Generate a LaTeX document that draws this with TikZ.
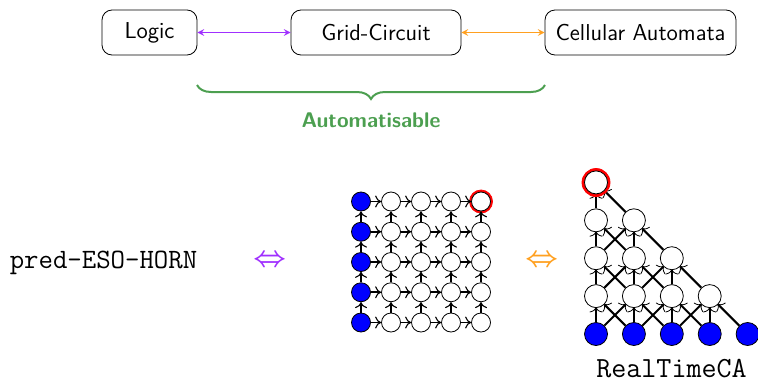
\documentclass[tikz,border=0pt]{standalone}
\usetikzlibrary{decorations.pathreplacing, arrows.meta, backgrounds}
\definecolor{linkpurple}{HTML}{A030FF}
\definecolor{linkorange}{HTML}{FFA020}
\definecolor{bracegreen}{HTML}{4C9F50}
\tikzstyle{block} = [rectangle, draw, font=\sffamily\fontsize{11.5}{13}\selectfont, minimum height=22.5pt, inner sep=0pt, rounded corners=5pt]
\tikzstyle{arrow} = [draw, line width=0.9pt, -{Computer Modern Rightarrow[width=6pt,length=3pt,line width=0.55pt]}]
\tikzstyle{smallarrow} = [draw, line width=1pt, shorten >=-0.3pt, -{Computer Modern Rightarrow[width=6.5pt,length=2.5pt,line width=0.4pt]}]
\tikzstyle{link} = [draw, <->, >=stealth, line width=0.5pt]
\tikzstyle{cell} = [circle, draw, fill=white, inner sep=0pt, minimum size=9.5pt]
\tikzstyle{bigcell} = [circle, draw, fill=white, inner sep=0pt, minimum size=11.5pt]
\tikzstyle{equiv} = [font=\Large\boldmath]

\begin{document}
\begin{tikzpicture}[x=0.5pt, y=-0.5pt, node distance=1cm]
    \useasboundingbox (0,0) rectangle (758,380);

    \node[block, minimum width=47.5pt] (logic) at (149.5,32.5) {Logic};
    \node[block, minimum width=85pt, right of=logic, node distance=113.25pt] (circuit) {Grid-Circuit};
    \node[block, minimum width=95.5pt, right of=circuit, node distance=132.25pt] (automata) {Cellular Automata};

    % lines
    \draw [link, linkpurple] (logic) to (circuit);
    \draw [link, linkorange] (circuit) to (automata);

    % brace
    \coordinate (braceL) at (197,85);
    \coordinate (braceR) at (545,85);
    \draw [bracegreen, line width=1pt, decorate, decoration={brace, mirror, amplitude=7pt}] (braceL) to (braceR);
    \node[text=bracegreen, font=\sffamily\bfseries\fontsize{10.6}{12}\selectfont] (auto) at (371,120) {Automatisable};

    % bottom row
    \node[font=\ttfamily\fontsize{14}{16}\selectfont] (eso) at (103.5,263) {pred-ESO-HORN};
    \node[equiv, text=linkpurple] (eqA) at (270,261) {$\Leftrightarrow$};
    \node[equiv, text=linkorange] (eqB) at (542,261) {$\Leftrightarrow$};
    \node[font=\ttfamily\fontsize{14.6}{16}\selectfont, inner sep=0pt] (ca) at (671.5,368.5) {RealTimeCA};

    % grid
    \begin{scope}[shift={(361,322.5)}]
        \node[circle, draw=red, fill=red, inner sep=0pt, minimum size=11.5pt] (gridRed) at (120,-121) {};
        \foreach \i in {0,...,4}
            \foreach \j in {0,...,4} {
                \ifnum\i=0
                    \node[cell, fill=blue] (g-\i-\j) at (30*\i,-30.25*\j) {};
                \else
                    \node[cell] (g-\i-\j) at (30*\i,-30.25*\j) {};
                \fi
            }
        \foreach \i in {0,...,3} {
            \pgfmathtruncatemacro{\nxt}{\i+1}
            \foreach \j in {0,...,4}
                \draw [arrow] (g-\i-\j) to (g-\nxt-\j);
        }
        \foreach \i in {0,...,4}
            \foreach \j in {0,...,3} {
                \pgfmathtruncatemacro{\nxt}{\j+1}
                \draw [arrow] (g-\i-\j) to (g-\i-\nxt);
            }
    \end{scope}

    % triangle
    \begin{scope}[shift={(596,334)}]
        \node[circle, draw=red, fill=red, inner sep=0pt, minimum size=14pt] (triRed) at (0,-151.5) {};
        \foreach \i in {0,...,4}
            \node[bigcell, fill=blue] (t-\i-0) at (37.9*\i,0) {};
        \foreach \j in {1,...,4} {
            \pgfmathtruncatemacro{\last}{4-\j}
            \foreach \i in {0,...,\last}
                \node[bigcell] (t-\i-\j) at (37.9*\i,-37.9*\j) {};
        }
        \begin{pgfonlayer}{background}
        \foreach \j in {1,...,4} {
            \pgfmathtruncatemacro{\prev}{\j-1}
            \pgfmathtruncatemacro{\last}{4-\j}
            \foreach \i in {0,...,\last} {
                \pgfmathtruncatemacro{\lft}{\i-1}
                \pgfmathtruncatemacro{\rgt}{\i+1}
                \draw [smallarrow] (t-\i-\prev) to (t-\i-\j);
                \draw [smallarrow] (t-\rgt-\prev) to (t-\i-\j);
                \ifnum\i>0
                    \draw [smallarrow] (t-\lft-\prev) to (t-\i-\j);
                \fi
            }
        }
        \end{pgfonlayer}
    \end{scope}
\end{tikzpicture}
\end{document}
